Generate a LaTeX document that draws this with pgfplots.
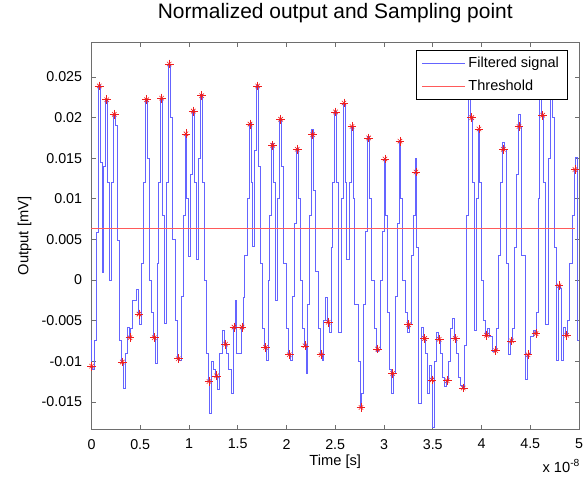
\documentclass[border=0pt]{standalone}
\usepackage{fontspec}
\setmainfont{Liberation Sans}
\usepackage{pgfplots}
\usepackage{pgfplotstable}
\pgfplotsset{compat=1.18}

\definecolor{sigblue}{RGB}{100,100,255}
\definecolor{thrred}{RGB}{255,90,90}
\definecolor{starred}{RGB}{240,30,30}
\definecolor{boxgray}{RGB}{110,110,110}

% filtered signal (x in units of 1e-8 s), drawn as a staircase
\pgfplotstableread{
x y
0.000 -0.0074
0.001 -0.0106
0.012 -0.0110
0.032 -0.0074
0.050 0.0058
0.070 0.0239
0.090 0.0145
0.110 0.0009
0.126 0.0140
0.146 0.0222
0.166 0.0120
0.186 0.0000
0.204 0.0120
0.224 0.0204
0.244 0.0190
0.264 0.0049
0.286 -0.0074
0.306 -0.0101
0.326 -0.0133
0.346 -0.0090
0.365 -0.0058
0.385 -0.0071
0.405 -0.0060
0.425 -0.0025
0.457 -0.0012
0.477 -0.0042
0.497 -0.0055
0.517 0.0020
0.536 0.0120
0.556 0.0222
0.576 0.0150
0.596 0.0000
0.614 -0.0040
0.634 -0.0071
0.654 -0.0103
0.674 0.0020
0.690 0.0120
0.710 0.0224
0.730 0.0080
0.750 -0.0053
0.768 0.0120
0.788 0.0266
0.808 0.0200
0.828 0.0050
0.860 -0.0050
0.880 -0.0097
0.900 -0.0099
0.920 -0.0020
0.939 0.0080
0.959 0.0180
0.979 0.0100
0.999 0.0029
1.014 0.0130
1.034 0.0209
1.054 0.0120
1.074 0.0025
1.100 0.0150
1.120 0.0228
1.140 0.0120
1.160 0.0000
1.175 -0.0090
1.195 -0.0125
1.215 -0.0164
1.235 -0.0100
1.254 -0.0110
1.274 -0.0118
1.294 -0.0135
1.314 -0.0090
1.346 -0.0062
1.366 -0.0078
1.386 -0.0090
1.406 -0.0110
1.432 -0.0140
1.452 -0.0058
1.472 -0.0025
1.492 -0.0090
1.514 -0.0090
1.534 -0.0058
1.554 -0.0022
1.574 0.0030
1.596 0.0100
1.616 0.0193
1.636 0.0120
1.656 0.0041
1.675 0.0160
1.695 0.0240
1.715 0.0140
1.735 0.0020
1.756 -0.0060
1.776 -0.0083
1.796 -0.0099
1.816 0.0000
1.828 0.0080
1.848 0.0168
1.868 0.0120
1.888 -0.0025
1.910 0.0100
1.930 0.0198
1.950 0.0140
1.970 0.0020
1.999 -0.0060
2.019 -0.0092
2.039 -0.0099
2.059 -0.0020
2.080 0.0070
2.100 0.0162
2.120 0.0100
2.140 0.0000
2.160 -0.0060
2.180 -0.0081
2.200 -0.0115
2.220 -0.0030
2.239 0.0080
2.259 0.0185
2.279 0.0110
2.299 0.0010
2.324 -0.0060
2.344 -0.0092
2.364 -0.0099
2.384 -0.0050
2.399 -0.0022
2.419 -0.0052
2.439 -0.0065
2.459 0.0040
2.473 0.0120
2.493 0.0207
2.513 0.0120
2.533 -0.0065
2.560 0.0100
2.580 0.0218
2.600 0.0120
2.620 0.0025
2.642 0.0120
2.662 0.0189
2.682 0.0100
2.702 -0.0030
2.734 -0.0100
2.754 -0.0157
2.774 -0.0140
2.794 -0.0030
2.813 0.0060
2.833 0.0177
2.853 0.0100
2.873 0.0000
2.905 -0.0060
2.925 -0.0088
2.945 -0.0085
2.965 0.0000
2.980 0.0060
3.000 0.0150
3.020 0.0080
3.040 -0.0040
3.059 -0.0110
3.079 -0.0140
3.099 -0.0115
3.119 -0.0020
3.134 0.0070
3.154 0.0172
3.174 0.0100
3.194 0.0000
3.223 -0.0040
3.243 -0.0065
3.263 -0.0055
3.283 0.0030
3.298 0.0080
3.318 0.0150
3.338 0.0040
3.358 -0.0152
3.387 -0.0058
3.407 -0.0072
3.427 -0.0090
3.447 -0.0140
3.462 -0.0105
3.482 -0.0123
3.502 -0.0182
3.522 -0.0100
3.537 -0.0065
3.557 -0.0073
3.577 -0.0090
3.597 -0.0120
3.619 -0.0131
3.639 -0.0124
3.659 -0.0100
3.679 -0.0060
3.701 -0.0047
3.721 -0.0072
3.741 -0.0090
3.761 -0.0120
3.783 -0.0130
3.803 -0.0133
3.823 -0.0080
3.843 0.0080
3.870 0.0265
3.890 0.0200
3.910 0.0120
3.930 -0.0062
3.944 0.0100
3.964 0.0186
3.984 0.0120
4.004 0.0000
4.023 -0.0050
4.043 -0.0068
4.063 -0.0060
4.083 -0.0070
4.116 -0.0088
4.136 -0.0087
4.156 -0.0060
4.176 0.0030
4.194 0.0120
4.214 0.0170
4.234 0.0161
4.254 0.0020
4.279 -0.0092
4.299 -0.0075
4.319 -0.0060
4.339 0.0040
4.355 0.0130
4.375 0.0204
4.395 0.0189
4.415 0.0030
4.447 -0.0123
4.467 -0.0092
4.487 -0.0090
4.507 -0.0070
4.529 -0.0062
4.549 -0.0066
4.569 -0.0040
4.589 0.0100
4.598 0.0262
4.618 0.0203
4.638 0.0120
4.658 -0.0055
4.685 0.0150
4.705 0.0272
4.725 0.0200
4.745 0.0040
4.765 -0.0099
4.785 -0.0007
4.805 -0.0011
4.825 -0.0099
4.844 -0.0058
4.864 -0.0068
4.884 -0.0050
4.904 0.0020
4.929 0.0080
4.949 0.0136
4.969 0.0151
4.989 -0.0074
5.000 -0.0074
}\signal

% sampling points
\pgfplotstableread{
x y
0.002 -0.0106
0.080 0.0239
0.156 0.0222
0.234 0.0204
0.316 -0.0101
0.395 -0.0071
0.487 -0.0042
0.566 0.0222
0.644 -0.0071
0.720 0.0224
0.798 0.0266
0.890 -0.0097
0.969 0.0180
1.044 0.0208
1.130 0.0227
1.205 -0.0125
1.284 -0.0118
1.376 -0.0079
1.462 -0.0058
1.544 -0.0058
1.626 0.0192
1.705 0.0239
1.786 -0.0083
1.858 0.0166
1.940 0.0198
2.029 -0.0092
2.110 0.0161
2.190 -0.0081
2.269 0.0179
2.354 -0.0092
2.429 -0.0052
2.503 0.0207
2.590 0.0218
2.672 0.0189
2.764 -0.0157
2.843 0.0175
2.935 -0.0085
3.010 0.0149
3.089 -0.0115
3.164 0.0171
3.253 -0.0055
3.328 0.0133
3.417 -0.0072
3.492 -0.0123
3.567 -0.0073
3.649 -0.0124
3.731 -0.0072
3.813 -0.0133
3.900 0.0200
3.974 0.0186
4.053 -0.0068
4.146 -0.0087
4.224 0.0161
4.309 -0.0075
4.385 0.0189
4.477 -0.0092
4.559 -0.0066
4.628 0.0203
4.715 0.0270
4.795 -0.0007
4.874 -0.0068
4.959 0.0136
}\samples

\begin{document}
\begin{tikzpicture}
\begin{axis}[
    at={(0pt,0pt)}, anchor=south west,
    scale only axis, width=365.6pt, height=289.7pt,
    xmin=0, xmax=5, ymin=-0.01835, ymax=0.02922,
    clip=false,
    xtick={0,0.5,1,1.5,2,2.5,3,3.5,4,4.5,5},
    xticklabels={0,0.5,1,1.5,2,2.5,3,3.5,4,4.5,5},
    ytick={-0.015,-0.01,-0.005,0,0.005,0.01,0.015,0.02,0.025},
    yticklabels={-0.015,-0.01,-0.005,0,0.005,0.01,0.015,0.02,0.025},
    scaled ticks=false,
    tick align=inside, major tick length=3.2pt,
    axis line style={boxgray, line width=0.5pt},
    tick style={boxgray, line width=0.5pt},
    ticklabel style={font=\fontsize{10.7}{12}\selectfont},
    xticklabel style={yshift=-4pt},
    yticklabel style={xshift=-3.5pt},
    title={Normalized output and Sampling point},
    title style={at={(axis description cs:0.5,1.043)}, anchor=base, font=\fontsize{15.7}{18}\selectfont},
    xlabel={Time [s]},
    xlabel style={at={(axis description cs:0.5,-0.0932)}, anchor=base, font=\fontsize{11}{13}\selectfont},
    ylabel={Output [mV]},
    ylabel style={at={(axis description cs:-0.1292,0.5)}, anchor=base, font=\fontsize{11}{13}\selectfont},
    legend style={at={(axis description cs:0.9774,0.981)}, anchor=north east,
        draw=black, fill=white, line width=0.5pt,
        font=\fontsize{10.9}{13}\selectfont,
        inner xsep=4pt, inner ysep=2.5pt, row sep=3pt,
        nodes={inner sep=2.5pt}},
    legend cell align=left,
    legend image code/.code={\draw[#1] (0pt,0pt) -- (32pt,0pt);},
]
\addplot[const plot, sigblue, line width=0.7pt] table {\signal};
\addlegendentry{Filtered signal}
\addplot[thrred, line width=0.6pt] coordinates {(0,0.0063) (4.959,0.0063)};
\addlegendentry{Threshold}
\addplot[only marks, mark=+, mark size=3.3pt, starred, line width=0.45pt, forget plot] table {\samples};
\addplot[only marks, mark=x, mark size=2.35pt, starred, line width=0.45pt, forget plot] table {\samples};
\node[anchor=base west, font=\fontsize{11}{13}\selectfont, inner sep=0pt]
    at (axis description cs:0.9247,-0.1114) {x 10\textsuperscript{-8}};
\end{axis}
\pgfresetboundingbox
\path[use as bounding box] (-68.6pt,-36pt) rectangle (371.6pt,321.75pt);
\end{tikzpicture}
\end{document}
